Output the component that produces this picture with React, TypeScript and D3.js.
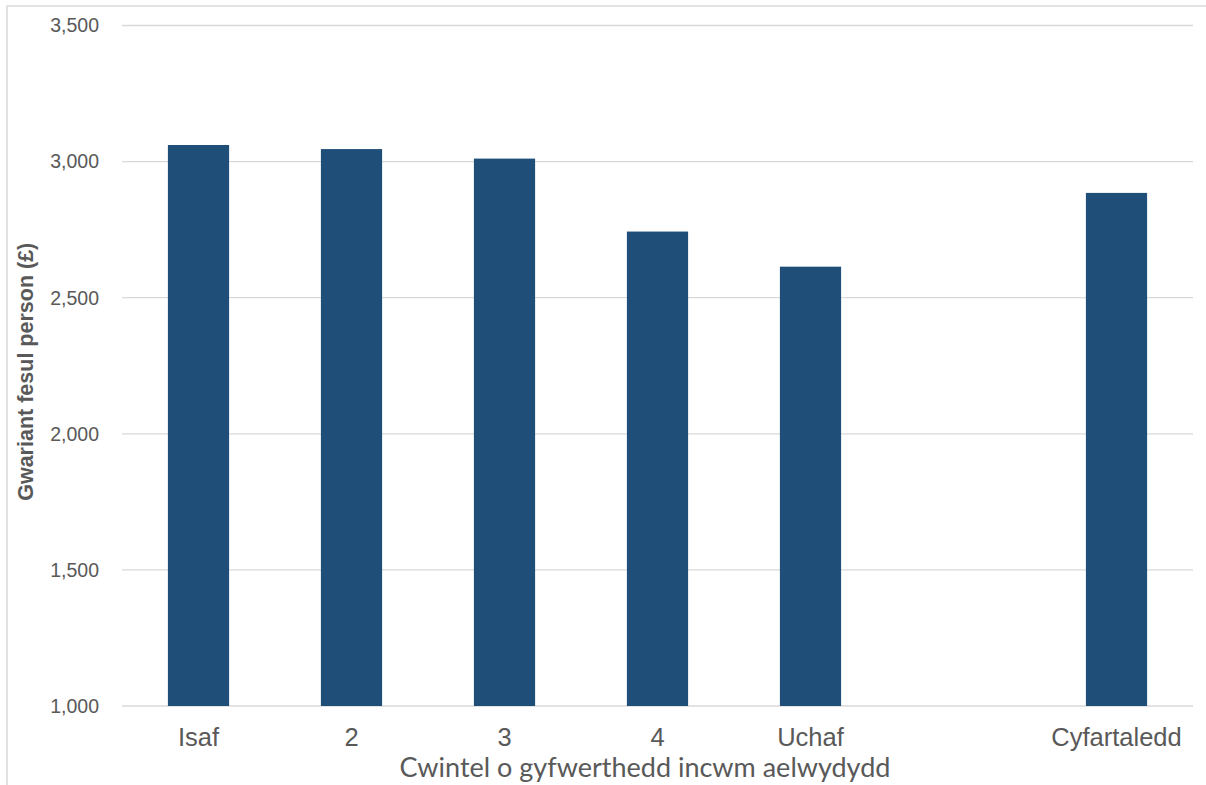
import React from "react";
import * as d3 from "d3";

const categories = ["Isaf", "2", "3", "4", "Uchaf", "", "Cyfartaledd"];
const values: (number | null)[] = [3061, 3046, 3011, 2743, 2614, null, 2885];
const yTicks = [1000, 1500, 2000, 2500, 3000, 3500];
const yTitle = "Gwariant fesul person (£)";
const xTitle = "Cwintel o gyfwerthedd incwm aelwydydd";

const W = 1206;
const H = 785;
const grey = "#595959";

export default function App() {
  const keys = categories.map((c, i) => `${i}-${c}`);
  const x = d3
    .scaleBand<string>()
    .domain(keys)
    .range([122, 1193])
    .paddingInner(0.6)
    .paddingOuter(0.3);
  const y = d3.scaleLinear().domain([1000, 3500]).range([706, 25.5]);
  const fmt = d3.format(",");

  return (
    <svg
      width={W}
      height={H}
      style={{ position: "absolute", left: 0, top: 0, background: "#fff" }}
    >
      <rect x={7} y={6} width={1210} height={800} fill="#fff" stroke="#d9d9d9" strokeWidth={1.5} />
      {yTicks.map((t) => (
        <g key={t}>
          <line x1={122} x2={1193} y1={y(t)} y2={y(t)} stroke="#d9d9d9" strokeWidth={1.3} />
          <text
            x={99}
            y={y(t)}
            dy="0.35em"
            textAnchor="end"
            fontFamily="'Liberation Sans', Arial, sans-serif"
            fontSize={19.5}
            fill={grey}
          >
            {fmt(t)}
          </text>
        </g>
      ))}
      {values.map((v, i) =>
        v == null ? null : (
          <rect
            key={keys[i]}
            x={x(keys[i])}
            y={y(v)}
            width={x.bandwidth()}
            height={y(1000) - y(v)}
            fill="#1f4e79"
          />
        )
      )}
      {categories.map((c, i) => (
        <text
          key={keys[i]}
          x={(x(keys[i]) as number) + x.bandwidth() / 2}
          y={746}
          textAnchor="middle"
          fontFamily="'Liberation Sans', Arial, sans-serif"
          fontSize={25.5}
          fill={grey}
        >
          {c}
        </text>
      ))}
      <text
        x={645}
        y={777}
        textAnchor="middle"
        fontFamily="Lato, 'Open Sans', sans-serif"
        fontSize={27}
        fill={grey}
      >
        {xTitle}
      </text>
      <text
        transform={`translate(33,${(y(1000) + y(3500)) / 2 + 6}) rotate(-90)`}
        textAnchor="middle"
        fontFamily="'Liberation Sans', Arial, sans-serif"
        fontWeight="bold"
        fontSize={21.5}
        fill={grey}
      >
        {yTitle}
      </text>
    </svg>
  );
}
